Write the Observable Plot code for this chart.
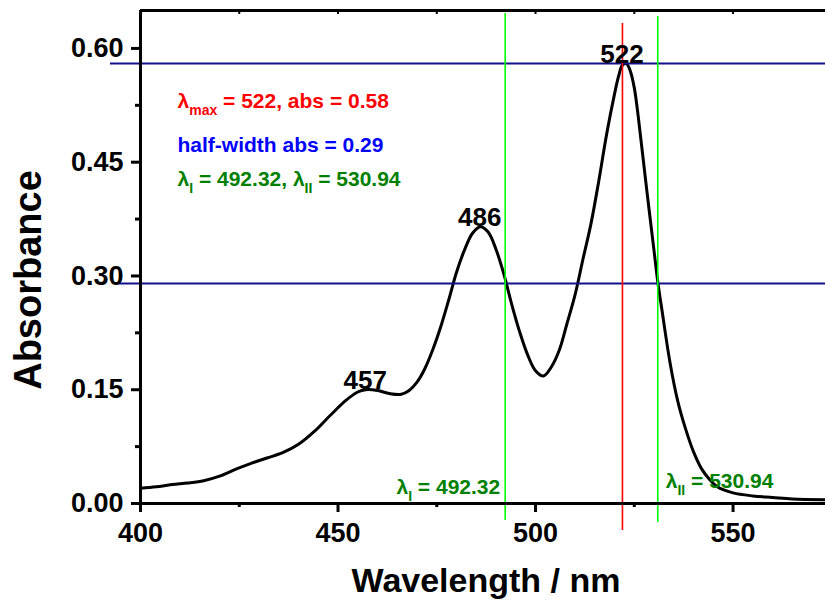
<!DOCTYPE html>
<html>
<head>
<meta charset="utf-8">
<script src="https://cdn.jsdelivr.net/npm/d3@7"></script>
<script src="https://cdn.jsdelivr.net/npm/@observablehq/plot@0.6"></script>
<style>
  html, body { margin: 0; padding: 0; background: #fff; }
  #chart { width: 825px; height: 601px; }
</style>
</head>
<body>
<div id="chart"></div>
<script>
// ---- data ----
const wavelength = [400, 404, 408, 412, 416, 420, 424, 428, 432, 436, 440, 444, 448, 452, 455, 457, 460, 463, 466, 468, 470, 472, 474, 476, 478, 480, 482, 484, 486, 488, 490, 492, 494, 496, 498, 500, 502, 504, 506, 508, 510, 512, 514, 516, 518, 520, 521, 522, 523, 524, 525, 526, 528, 530, 531, 532, 534, 536, 538, 540, 542, 544, 546, 550, 555, 560, 565, 573.4];
const absorbance = [0.020, 0.022, 0.025, 0.027, 0.030, 0.036, 0.045, 0.053, 0.060, 0.067, 0.078, 0.095, 0.116, 0.136, 0.147, 0.150, 0.149, 0.145, 0.144, 0.149, 0.160, 0.178, 0.203, 0.233, 0.268, 0.305, 0.334, 0.356, 0.365, 0.358, 0.335, 0.302, 0.262, 0.226, 0.196, 0.175, 0.168, 0.180, 0.202, 0.238, 0.275, 0.322, 0.368, 0.425, 0.487, 0.540, 0.563, 0.578, 0.580, 0.570, 0.548, 0.510, 0.420, 0.333, 0.290, 0.255, 0.187, 0.135, 0.098, 0.068, 0.046, 0.032, 0.022, 0.014, 0.010, 0.008, 0.006, 0.005];

const xTicks = [400, 450, 500, 550];
const xMinorTicks = [425, 475, 525];
const yTicks = [0, 0.15, 0.30, 0.45, 0.60];
const yMinorTicks = [0.075, 0.225, 0.375, 0.525];

const peakWavelengths = [457, 486, 522];
const peakAbsorbances = [0.150, 0.365, 0.580];

const lambdaMax = 522;
const absMax = 0.58;
const halfAbs = 0.29;
const lambdaI = 492.32;
const lambdaII = 530.94;

const xDomain = [400, 573.4];
const yDomain = [0, 0.65];

// ---- tables built from the arrays ----
const spectrum = wavelength.map((w, i) => ({w, a: absorbance[i]}));
const peaks = peakWavelengths.map((w, i) => ({w, a: peakAbsorbances[i]}));

const font = "Liberation Sans, Arial, Helvetica, sans-serif";

const chart = Plot.plot({
  width: 825,
  height: 601,
  marginLeft: 140,
  marginRight: 0,
  marginTop: 10,
  marginBottom: 98,
  style: {fontFamily: font, background: "#fff", color: "#000"},
  x: {domain: xDomain},
  y: {domain: yDomain},
  marks: [
    // spectrum
    Plot.line(spectrum, {x: "w", y: "a", stroke: "#000", strokeWidth: 3, curve: "catmull-rom"}),
    // horizontal reference lines
    Plot.ruleY([absMax], {x1: 392.4, x2: 580, stroke: "#10108a", strokeWidth: 2}),
    Plot.ruleY([halfAbs], {x1: 394.2, x2: 580, stroke: "#10108a", strokeWidth: 2}),
    // vertical reference lines
    Plot.ruleX([lambdaI], {y1: -0.0224, y2: 0.646, stroke: "#00ff00", strokeWidth: 1.6}),
    Plot.ruleX([lambdaII], {y1: -0.025, y2: 0.642, stroke: "#00ff00", strokeWidth: 1.6}),
    Plot.ruleX([lambdaMax], {y1: -0.0356, y2: 0.633, stroke: "#ff0000", strokeWidth: 1.6}),
    // peak labels
    Plot.text(peaks, {x: "w", y: "a", text: d => String(d.w), lineAnchor: "bottom",
      dx: d => d.w === 522 ? 5 : d.w === 457 ? -3 : 0,
      dy: d => d.w === 522 ? -6 : d.w === 457 ? -7 : -5,
      fontSize: 26, fontWeight: "bold", fill: "#000"}),
    // annotation block
    Plot.text([`λ_{max} = ${lambdaMax}, abs = ${absMax}`], {frameAnchor: "top-left", textAnchor: "start", lineAnchor: "bottom", dx: 37, dy: 97, fontSize: 21, fontWeight: "bold", fill: "#ff0000"}),
    Plot.text([`half-width abs = ${halfAbs}`], {frameAnchor: "top-left", textAnchor: "start", lineAnchor: "bottom", dx: 37, dy: 141, fontSize: 21, fontWeight: "bold", fill: "#0000ff"}),
    Plot.text([`λ_{I} = ${lambdaI}, λ_{II} = ${lambdaII}`], {frameAnchor: "top-left", textAnchor: "start", lineAnchor: "bottom", dx: 37, dy: 175, fontSize: 21, fontWeight: "bold", fill: "#008000"}),
    // labels near the baseline
    Plot.text([lambdaI], {x: d => d, y: 0, text: d => `λ_{I} = ${d}`, textAnchor: "end", lineAnchor: "bottom", dx: -5, dy: -10, fontSize: 21, fontWeight: "bold", fill: "#008000"}),
    Plot.text([lambdaII], {x: d => d, y: 0, text: d => `λ_{II} = ${d}`, textAnchor: "start", lineAnchor: "bottom", dx: 8, dy: -16, fontSize: 21, fontWeight: "bold", fill: "#008000"}),
    // axes
    Plot.axisX({ticks: xTicks, tickSize: 9, tickPadding: 10, strokeWidth: 3, fontSize: 27, fontWeight: "bold", tickFormat: d => String(d), label: null}),
    Plot.axisX({ticks: xMinorTicks, tickSize: 4, strokeWidth: 3, tickFormat: () => "", label: null}),
    Plot.axisX({anchor: "top", ticks: xTicks.concat(xMinorTicks), tickSize: 3, dy: 3, strokeWidth: 2, tickFormat: () => "", label: null}),
    Plot.axisY({ticks: yTicks, tickSize: 9, tickPadding: 8, strokeWidth: 3, fontSize: 27, fontWeight: "bold", tickFormat: d => d.toFixed(2), label: null}),
    Plot.axisY({ticks: yMinorTicks, tickSize: 5, strokeWidth: 3, tickFormat: () => "", label: null}),
    // frame lines
    Plot.ruleY([0], {stroke: "#000", strokeWidth: 3}),
    Plot.ruleY([yDomain[1]], {stroke: "#000", strokeWidth: 3}),
    Plot.ruleX([xDomain[0]], {stroke: "#000", strokeWidth: 3}),
    // axis titles
    Plot.text(["Wavelength / nm"], {frameAnchor: "bottom", lineAnchor: "top", dx: 3, dy: 64, fontSize: 34, fontWeight: "bold", fill: "#000"}),
    Plot.text(["Absorbance"], {frameAnchor: "left", textAnchor: "middle", rotate: -90, dx: -112, dy: 23, fontSize: 38, fontWeight: "bold", fill: "#000"})
  ]
});

// turn "_{...}" into real subscript tspans
const NS = "http://www.w3.org/2000/svg";
chart.querySelectorAll("text").forEach(t => {
  const targets = t.querySelectorAll("tspan").length ? Array.from(t.querySelectorAll("tspan")) : [t];
  targets.forEach(target => {
    const s = target.textContent;
    if (!s.includes("_{")) return;
    target.textContent = "";
    const parts = s.split(/(_\{[^}]*\})/);
    let shifted = false;
    for (const p of parts) {
      if (!p) continue;
      const ts = document.createElementNS(NS, "tspan");
      if (p.startsWith("_{")) {
        ts.textContent = p.slice(2, -1);
        ts.setAttribute("font-size", "14");
        ts.setAttribute("dy", "7");
        shifted = true;
      } else {
        ts.textContent = p;
        if (shifted) { ts.setAttribute("dy", "-7"); shifted = false; }
      }
      target.appendChild(ts);
    }
  });
});

document.getElementById("chart").appendChild(chart);
</script>
</body>
</html>
